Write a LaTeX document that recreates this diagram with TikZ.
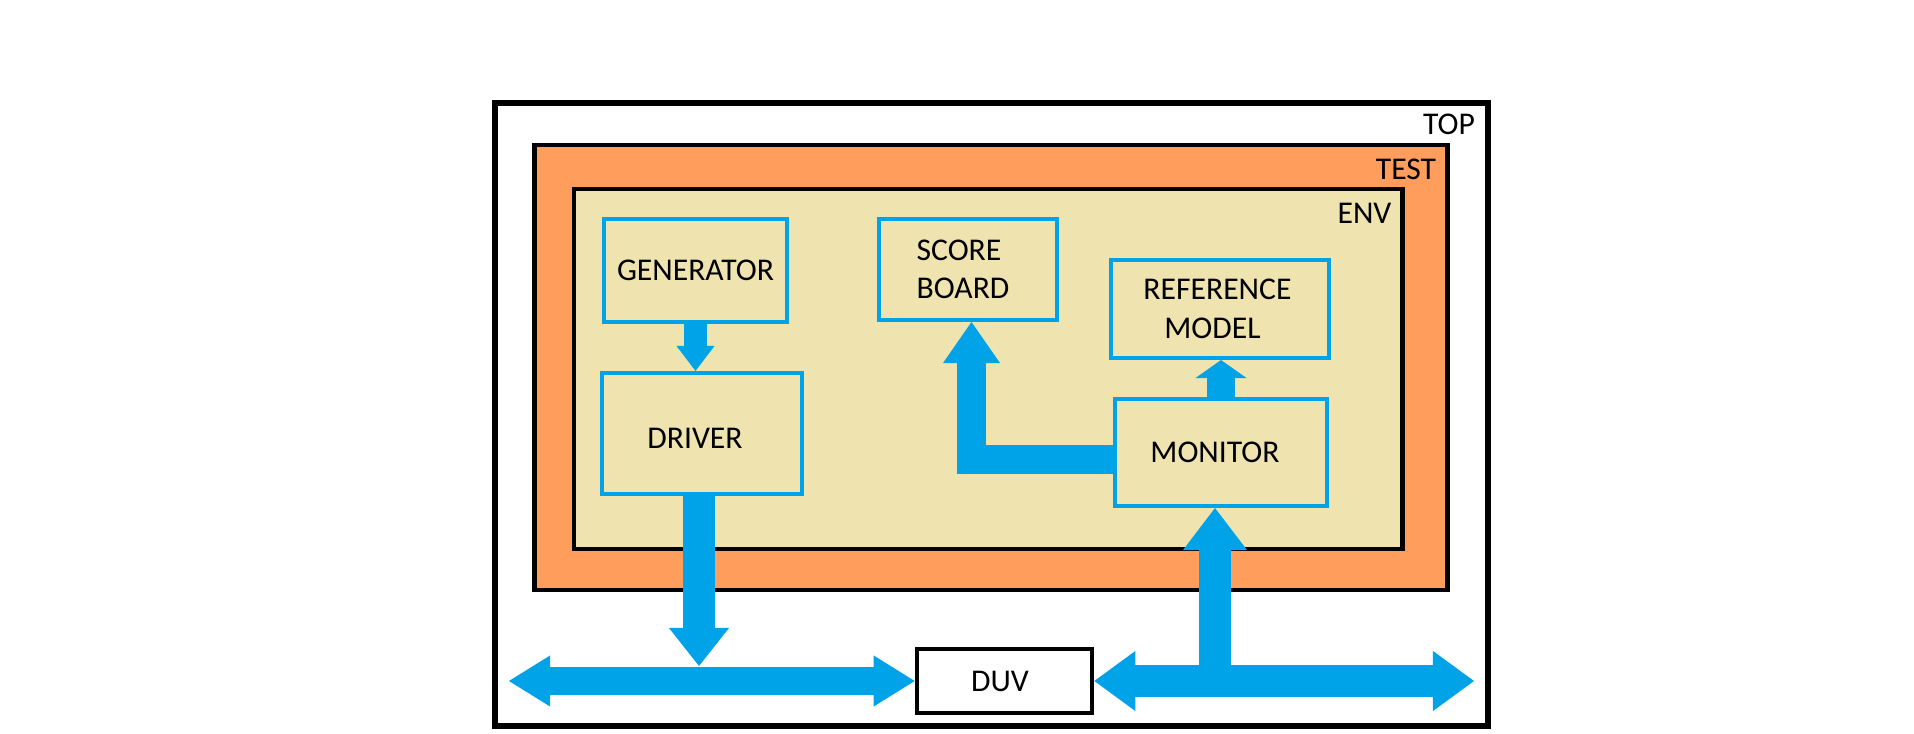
\documentclass[tikz,border=0pt]{standalone}
\usepackage{fontspec}
\setmainfont{Carlito}
\usetikzlibrary{arrows.meta,calc}
\definecolor{pblue}{HTML}{00A2E8}
\definecolor{porange}{HTML}{FF9E5C}
\definecolor{ptan}{HTML}{EFE4B0}
\begin{document}
\begin{tikzpicture}[x=0.01cm,y=-0.01cm,
  font=\fontsize{9pt}{11pt}\selectfont,
  frame/.style={draw=black, line width=0.045cm, rectangle, inner sep=0pt},
  blk/.style={draw=pblue, line width=0.04cm, rectangle, inner sep=0pt, align=center},
  lbl/.style={inner sep=0pt},
  fat/.style n args={3}{draw=pblue, line width=#1, line join=miter,
    -{Triangle[length=#2 0 0, width=#3 0 0, line width=0pt 0 0]}},
  dbl/.style n args={3}{draw=pblue, line width=#1,
    {Triangle[length=#2 0 0, width=#3 0 0, line width=0pt 0 0]}-{Triangle[length=#2 0 0, width=#3 0 0, line width=0pt 0 0]}}]
\useasboundingbox (0,0) rectangle (1914,734);
% frames
\node[frame, line width=0.06cm, fill=white, minimum width=9.93cm, minimum height=6.23cm] (top) at (991.5,414.5) {};
\node[frame, fill=porange, minimum width=9.12cm, minimum height=4.45cm] (test) at (991,367.5) {};
\node[frame, fill=ptan, minimum width=8.28cm, minimum height=3.60cm] (env) at (988,369) {};
\node[lbl] (toplbl) at (1449,124) {TOP};
\node[lbl] (testlbl) at (1406,169) {TEST};
\node[lbl] (envlbl) at (1364.5,213) {ENV};
% blocks
\node[blk, minimum width=1.83cm, minimum height=1.03cm] (gen) at (695.5,270.5) {GENERATOR};
\node[blk, minimum width=2.00cm, minimum height=1.21cm] (drv) at (702,433.5) {\rule{0pt}{0.30cm}DRIVER\kern0.14cm};
\node[blk, minimum width=1.78cm, minimum height=1.01cm, align=left] (sb) at (968,269.5) {SCORE\kern0.1cm\\BOARD\kern0.1cm};
\node[blk, minimum width=2.18cm, minimum height=0.98cm] (ref) at (1220,309) {REFERENCE\kern0.05cm\\MODEL\kern0.15cm};
\node[blk, minimum width=2.12cm, minimum height=1.07cm] (mon) at (1221,452.5) {MONITOR\kern0.12cm};
\node[frame, fill=white, minimum width=1.75cm, minimum height=0.64cm] (duv) at (1004.5,681) {DUV\kern0.09cm};
% free ends
\coordinate (bl) at (509,681);
\coordinate (br) at (1474,681);
\coordinate (bt) at (699,666);
\coordinate (bm) at (1215,677);
% connectors
\draw[fat={0.22cm}{0.25cm}{0.38cm}] (gen.south) -- (gen.south |- drv.north);
\draw[fat={0.29cm}{0.41cm}{0.57cm}] ([yshift=-0.07cm]mon.west) -| ([xshift=0.035cm]sb.south);
\draw[fat={0.28cm}{0.18cm}{0.51cm}] (mon.north) -- (mon.north |- ref.south);
\draw[dbl={0.28cm}{0.41cm}{0.51cm}] (bl) -- (duv.west);
\draw[dbl={0.32cm}{0.41cm}{0.60cm}] (duv.east) -- (br);
\draw[fat={0.32cm}{0.38cm}{0.60cm}] (drv.south -| bt) -- (bt);
\draw[fat={0.32cm}{0.42cm}{0.64cm}] (bm) -- (bm |- mon.south);
\end{tikzpicture}
\end{document}
